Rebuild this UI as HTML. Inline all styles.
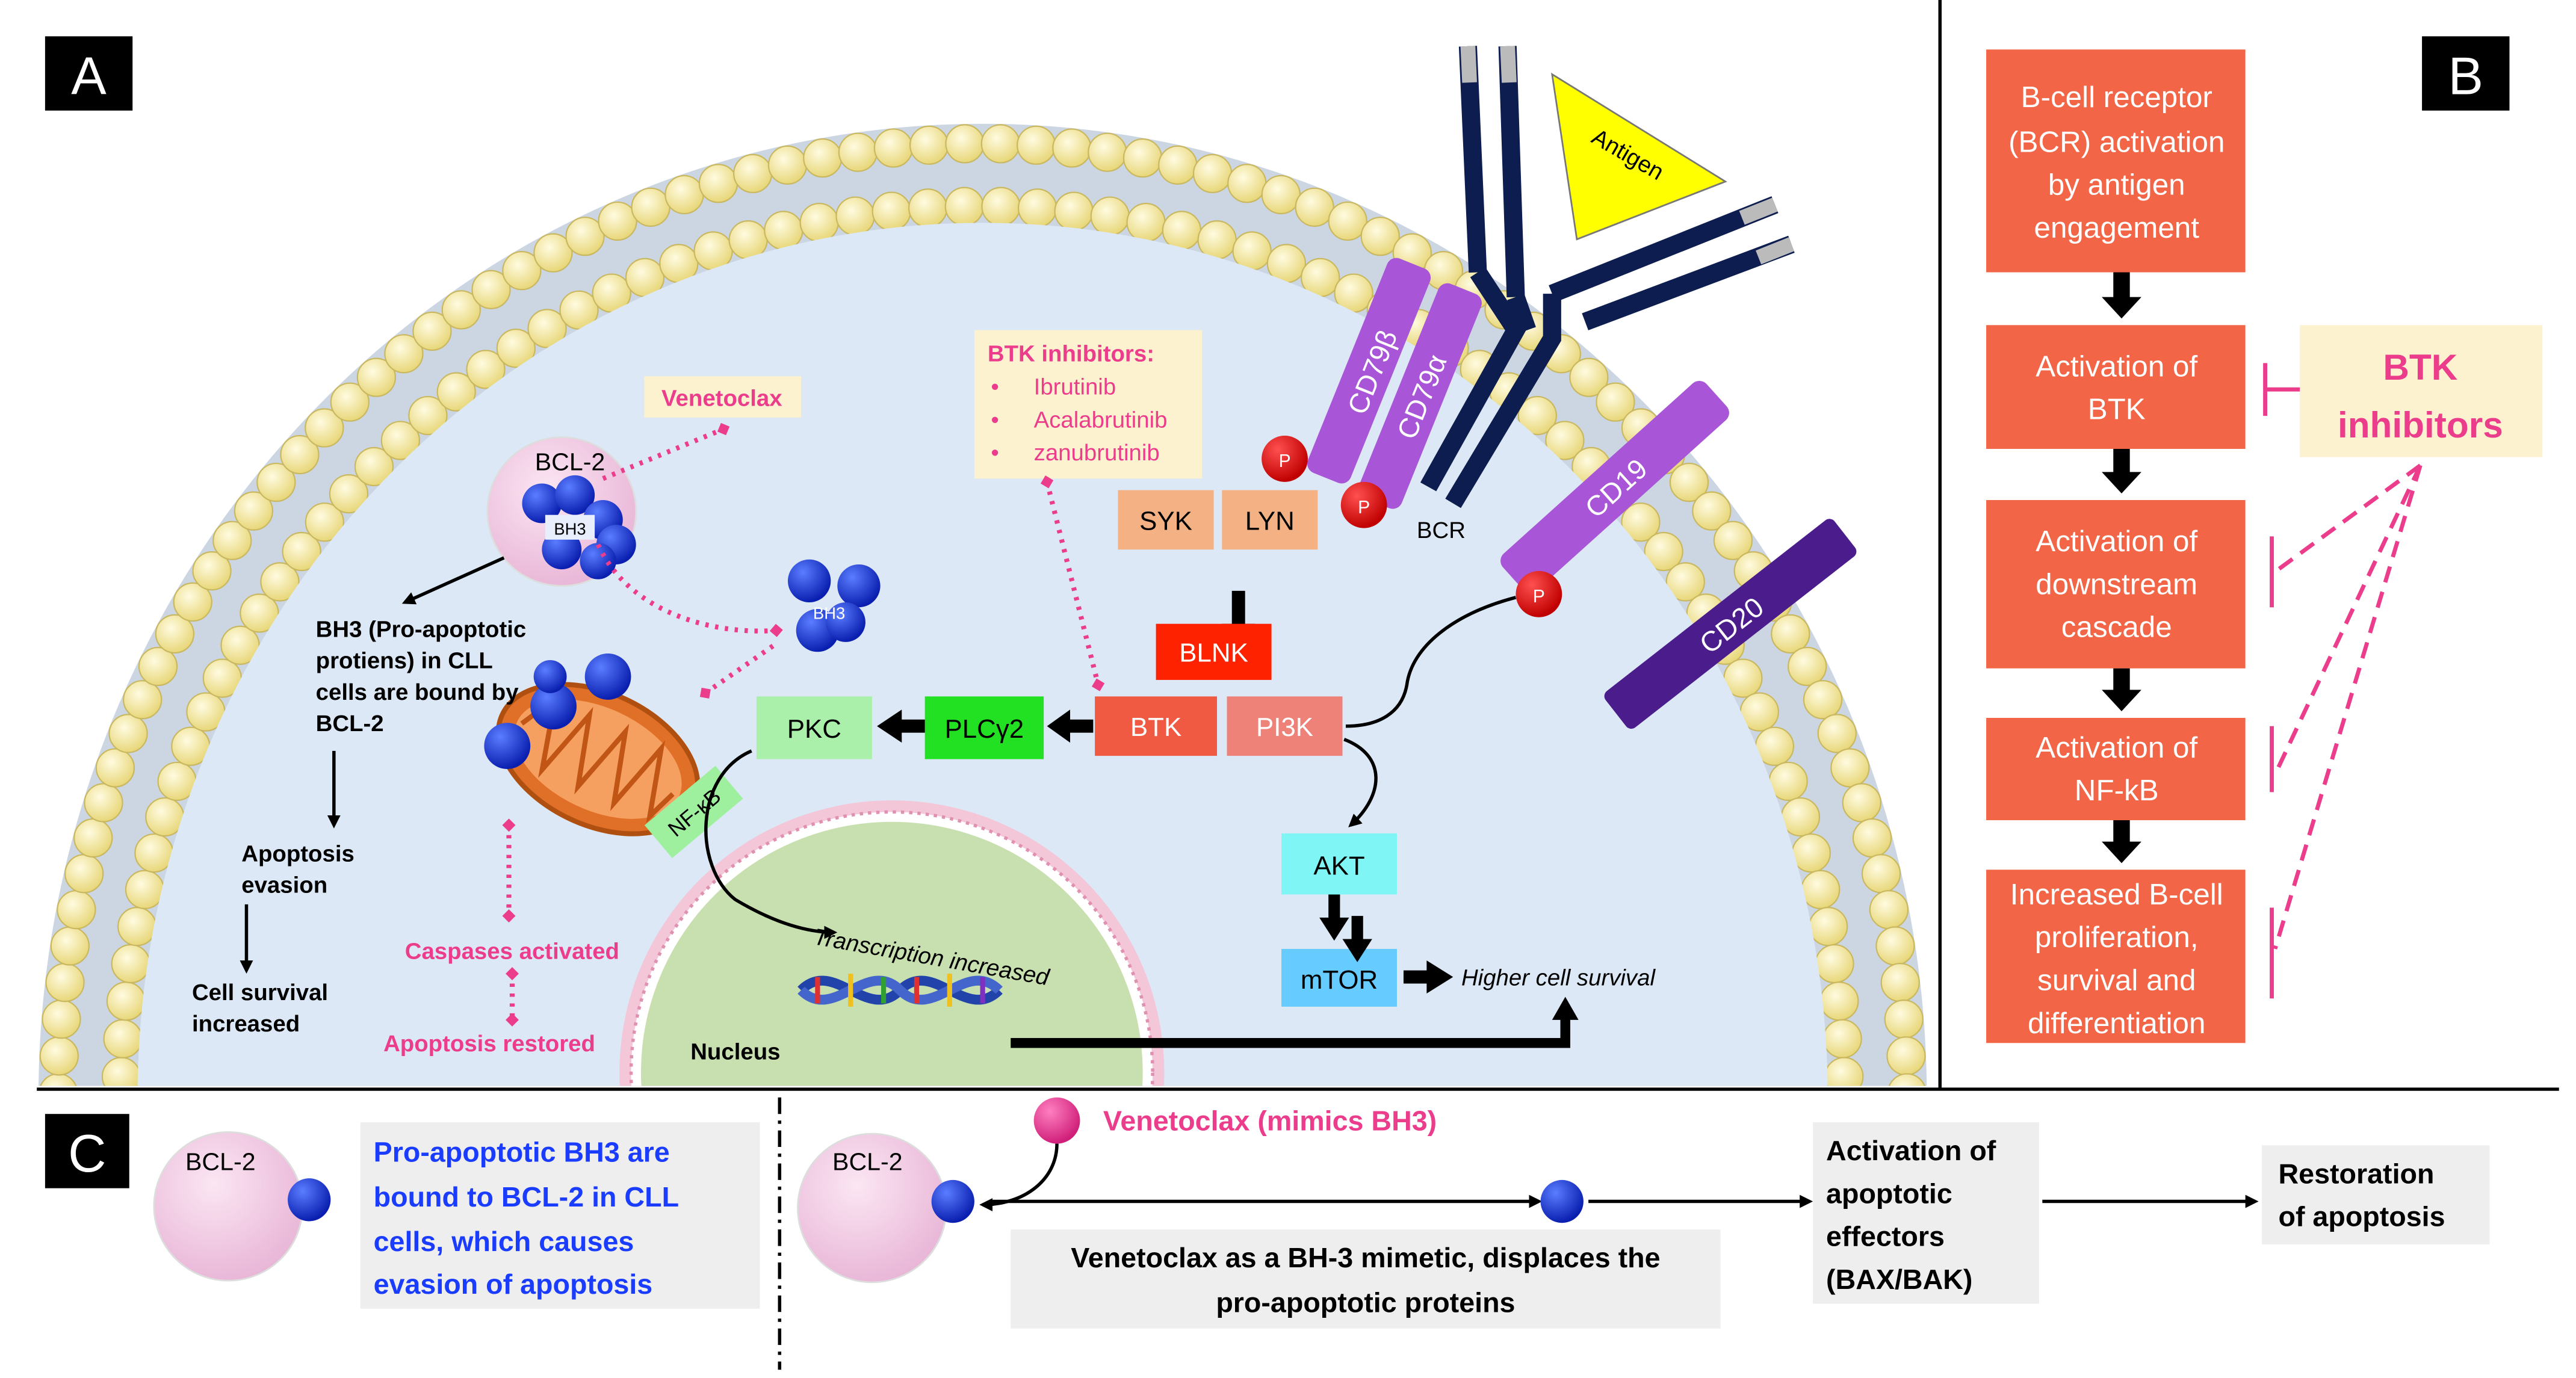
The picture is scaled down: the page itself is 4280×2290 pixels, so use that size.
<!DOCTYPE html>
<html><head><meta charset="utf-8"><style>
html,body{margin:0;padding:0;background:#fff;width:4280px;height:2290px;overflow:hidden;position:relative}
svg{display:block;position:absolute;left:0;top:0}
text{font-family:"Liberation Sans",sans-serif}
</style></head><body>
<svg id="s" width="4280" height="2290" viewBox="0 0 1560 835" xmlns="http://www.w3.org/2000/svg">
<defs>
<clipPath id="cA"><rect x="0" y="0" width="1175" height="658"/></clipPath>
<radialGradient id="head" cx="40%" cy="35%" r="65%"><stop offset="0" stop-color="#fffbe0"/><stop offset="1" stop-color="#e8d77a"/></radialGradient>
<radialGradient id="pink" cx="40%" cy="35%" r="70%"><stop offset="0" stop-color="#fbe6f3"/><stop offset="1" stop-color="#e8b4d6"/></radialGradient>
<radialGradient id="blue" cx="35%" cy="30%" r="70%"><stop offset="0" stop-color="#5a7dff"/><stop offset="1" stop-color="#0a1fb0"/></radialGradient>
<radialGradient id="red" cx="35%" cy="30%" r="70%"><stop offset="0" stop-color="#ff5050"/><stop offset="1" stop-color="#c00000"/></radialGradient>
<radialGradient id="mag" cx="35%" cy="30%" r="70%"><stop offset="0" stop-color="#ff7fc0"/><stop offset="1" stop-color="#d0207a"/></radialGradient>
<marker id="ab" markerWidth="8" markerHeight="8" refX="6" refY="4" orient="auto" markerUnits="userSpaceOnUse"><path d="M0,0 L8,4 L0,8z" fill="#000"/></marker>
<marker id="pd" markerWidth="8" markerHeight="8" refX="4" refY="4" orient="auto" markerUnits="userSpaceOnUse"><path d="M4,0 L8,4 L4,8 L0,4z" fill="#ec3c8c"/></marker>
</defs>
<rect width="1560" height="835" fill="#fff"/>
<g clip-path="url(#cA)">
 <ellipse cx="595" cy="665" rx="572" ry="590" fill="#ccd6e2"/>
 <g id="outer"></g>
 <ellipse cx="595" cy="665" rx="528" ry="546" fill="#ccd6e2"/>
 <g id="inner"></g>
 <ellipse cx="595" cy="665" rx="512" ry="530" fill="#dce8f5"/>
 <circle cx="540" cy="650" r="165" fill="#f3c6d8"/>
 <circle cx="540" cy="650" r="158" fill="#fff" stroke="#e090b0" stroke-width="2" stroke-dasharray="2 3"/>
 <circle cx="540" cy="650" r="152" fill="#c8e0b0"/>
</g>
<line x1="1175" y1="0" x2="1175" y2="660" stroke="#000" stroke-width="2"/>
<line x1="22" y1="660" x2="1550" y2="660" stroke="#000" stroke-width="2"/>
<line x1="472" y1="665" x2="472" y2="830" stroke="#000" stroke-width="2" stroke-dasharray="10 4 2 4"/>
<rect x="27" y="22" width="53" height="45" fill="#000"/><text x="53.5" y="57" font-size="32" fill="#fff" text-anchor="middle">A</text>
<rect x="1467" y="22" width="53" height="45" fill="#000"/><text x="1493.5" y="57" font-size="32" fill="#fff" text-anchor="middle">B</text>
<rect x="27" y="675" width="51" height="45" fill="#000"/><text x="52.5" y="710" font-size="32" fill="#fff" text-anchor="middle">C</text>

<g stroke-linecap="butt">
 <polygon points="940,45 1045,110 955,145" fill="#ffff00" stroke="#777" stroke-width="1"/>
 <text x="960" y="93" font-size="14" transform="rotate(30 975 95)">Antigen</text>
 <line x1="889" y1="28" x2="895" y2="165" stroke="#0d1d4f" stroke-width="11"/>
 <line x1="889" y1="28" x2="890" y2="50" stroke="#bbb" stroke-width="9"/>
 <line x1="913" y1="28" x2="918" y2="180" stroke="#0d1d4f" stroke-width="11"/>
 <line x1="913" y1="28" x2="914" y2="50" stroke="#bbb" stroke-width="9"/>
 <line x1="1075" y1="124" x2="940" y2="178" stroke="#0d1d4f" stroke-width="11"/>
 <line x1="1075" y1="124" x2="1055" y2="132" stroke="#bbb" stroke-width="9"/>
 <line x1="1085" y1="148" x2="960" y2="195" stroke="#0d1d4f" stroke-width="11"/>
 <line x1="1085" y1="148" x2="1065" y2="156" stroke="#bbb" stroke-width="9"/>
 <polyline points="895,165 918,200 865,295" fill="none" stroke="#0d1d4f" stroke-width="11"/>
 <polyline points="940,178 940,205 880,305" fill="none" stroke="#0d1d4f" stroke-width="11"/>
 <polyline points="918,180 925,200" fill="none" stroke="#0d1d4f" stroke-width="11"/>
</g>
<g transform="rotate(-68 830 225)"><rect x="760" y="210" width="140" height="28" rx="6" fill="#a855d8"/><text x="830" y="232" font-size="17" fill="#fff" text-anchor="middle">CD79β</text></g>
<g transform="rotate(-68 860 240)"><rect x="790" y="226" width="140" height="28" rx="6" fill="#a855d8"/><text x="860" y="247" font-size="17" fill="#fff" text-anchor="middle">CD79α</text></g>
<g transform="rotate(-42 978 295)"><rect x="895" y="280" width="166" height="30" rx="6" fill="#a855d8"/><text x="978" y="302" font-size="17" fill="#fff" text-anchor="middle">CD19</text></g>
<g transform="rotate(-38 1048 378)"><rect x="960" y="364" width="176" height="28" rx="4" fill="#4b1d8c"/><text x="1048" y="385" font-size="17" fill="#fff" text-anchor="middle">CD20</text></g>
<text x="858" y="326" font-size="14">BCR</text>
<circle cx="778" cy="278" r="14" fill="url(#red)"/><text x="778" y="283" font-size="11" fill="#fff" text-anchor="middle">P</text>
<circle cx="826" cy="306" r="14" fill="url(#red)"/><text x="826" y="311" font-size="11" fill="#fff" text-anchor="middle">P</text>

<rect x="677" y="297" width="58" height="36" fill="#f4b183"/><text x="706" y="321" font-size="16" text-anchor="middle">SYK</text>
<rect x="740" y="297" width="58" height="36" fill="#f4b183"/><text x="769" y="321" font-size="16" text-anchor="middle">LYN</text>
<line x1="750" y1="358" x2="750" y2="385" stroke="#000" stroke-width="8"/><path d="M740,378 L760,378 L750,392z" fill="#000"/>
<rect x="700" y="378" width="70" height="34" fill="#ff2200"/><text x="735" y="401" font-size="16" fill="#fff" text-anchor="middle">BLNK</text>
<rect x="663" y="422" width="74" height="36" fill="#f05a42"/><text x="700" y="446" font-size="16" fill="#fff" text-anchor="middle">BTK</text>
<rect x="743" y="422" width="70" height="36" fill="#ef8278"/><text x="778" y="446" font-size="16" fill="#fff" text-anchor="middle">PI3K</text>
<rect x="560" y="422" width="72" height="38" fill="#22e022"/><text x="596" y="447" font-size="16" text-anchor="middle">PLCγ2</text>
<rect x="458" y="422" width="70" height="38" fill="#aaf0aa"/><text x="493" y="447" font-size="16" text-anchor="middle">PKC</text>
<line x1="662" y1="440" x2="645" y2="440" stroke="#000" stroke-width="8"/><path d="M648,430 L648,450 L634,440z" fill="#000"/>
<line x1="560" y1="440" x2="545" y2="440" stroke="#000" stroke-width="8"/><path d="M546,430 L546,450 L531,440z" fill="#000"/>
<path d="M918,362 C880,372 855,392 852,415 C849,432 835,440 815,440" fill="none" stroke="#000" stroke-width="2"/>
<circle cx="932" cy="360" r="14" fill="url(#red)"/><text x="932" y="365" font-size="11" fill="#fff" text-anchor="middle">P</text>
<path d="M814,448 C840,458 838,482 818,500" fill="none" stroke="#000" stroke-width="2" marker-end="url(#ab)"/>
<rect x="776" y="505" width="70" height="37" fill="#7ff5f5"/><text x="811" y="530" font-size="16" text-anchor="middle">AKT</text>
<rect x="776" y="575" width="70" height="35" fill="#66ccff"/><text x="811" y="599" font-size="16" text-anchor="middle">mTOR</text>
<line x1="808" y1="542" x2="808" y2="560" stroke="#000" stroke-width="7"/><path d="M799,556 L817,556 L808,570z" fill="#000"/>
<line x1="822" y1="555" x2="822" y2="573" stroke="#000" stroke-width="7"/><path d="M813,569 L831,569 L822,583z" fill="#000"/>
<line x1="850" y1="592" x2="866" y2="592" stroke="#000" stroke-width="8"/><path d="M864,582 L864,602 L880,592z" fill="#000"/>
<text x="885" y="597" font-size="14" font-style="italic">Higher cell survival</text>
<text x="492" y="572" font-size="14" font-style="italic" transform="rotate(10 492 572)">Transcription increased</text>
<text x="418" y="642" font-size="14" font-weight="bold">Nucleus</text>
<g stroke-width="3">
<path d="M485,600 C505,580 525,620 545,600 C565,580 585,620 605,600" fill="none" stroke="#2244aa" stroke-width="6"/>
<path d="M485,600 C505,620 525,580 545,600 C565,620 585,580 605,600" fill="none" stroke="#4466cc" stroke-width="6"/>
<line x1="495" y1="592" x2="495" y2="608" stroke="#e03030"/><line x1="515" y1="590" x2="515" y2="610" stroke="#f0c020"/><line x1="535" y1="592" x2="535" y2="608" stroke="#30a030"/><line x1="555" y1="592" x2="555" y2="608" stroke="#e03030"/><line x1="575" y1="590" x2="575" y2="610" stroke="#f0c020"/><line x1="595" y1="592" x2="595" y2="608" stroke="#8030c0"/>
</g>
<polyline points="612,632 948,632 948,615" fill="none" stroke="#000" stroke-width="6"/><path d="M940,618 L956,618 L948,604z" fill="#000"/>

<rect x="590" y="200" width="138" height="90" fill="#fdf2cf"/>
<text x="598" y="219" font-size="14" font-weight="bold" fill="#ec3c8c">BTK inhibitors:</text>
<g font-size="14" fill="#ec3c8c"><text x="600" y="239">•</text><text x="626" y="239">Ibrutinib</text><text x="600" y="259">•</text><text x="626" y="259">Acalabrutinib</text><text x="600" y="279">•</text><text x="626" y="279">zanubrutinib</text></g>
<path d="M634,292 L665,415" stroke="#ec3c8c" stroke-width="3" stroke-dasharray="2 4" fill="none" marker-start="url(#pd)" marker-end="url(#pd)"/>

<rect x="390" y="228" width="95" height="25" fill="#fdf2cf"/><text x="437" y="246" font-size="14" font-weight="bold" fill="#ec3c8c" text-anchor="middle">Venetoclax</text>
<circle cx="340" cy="310" r="45" fill="url(#pink)" stroke="#ddd"/>
<text x="345" y="285" font-size="15" text-anchor="middle">BCL-2</text>
<g fill="url(#blue)"><circle cx="328" cy="305" r="12"/><circle cx="348" cy="300" r="12"/><circle cx="365" cy="315" r="12"/><circle cx="373" cy="330" r="12"/><circle cx="340" cy="333" r="12"/><circle cx="362" cy="340" r="11"/></g>
<rect x="330" y="312" width="30" height="15" fill="#e8eefc"/><text x="345" y="324" font-size="10" text-anchor="middle">BH3</text>
<path d="M365,290 L438,260" stroke="#ec3c8c" stroke-width="3" stroke-dasharray="2 4" fill="none" marker-end="url(#pd)"/>
<path d="M362,330 C380,370 430,385 470,382" stroke="#ec3c8c" stroke-width="3" stroke-dasharray="2 4" fill="none" marker-end="url(#pd)"/>
<g fill="url(#blue)"><circle cx="490" cy="352" r="13"/><circle cx="520" cy="355" r="13"/><circle cx="495" cy="382" r="13"/><circle cx="512" cy="377" r="12"/></g>
<text x="502" y="375" font-size="10" fill="#fff" text-anchor="middle">BH3</text>
<line x1="305" y1="338" x2="245" y2="365" stroke="#000" stroke-width="2" marker-end="url(#ab)"/>
<line x1="202" y1="455" x2="202" y2="500" stroke="#000" stroke-width="2" marker-end="url(#ab)"/>
<line x1="149" y1="548" x2="149" y2="588" stroke="#000" stroke-width="2" marker-end="url(#ab)"/>
<g transform="rotate(25 362 460)">
<ellipse cx="362" cy="460" rx="64" ry="40" fill="#e07028" stroke="#b05010" stroke-width="3"/>
<ellipse cx="362" cy="460" rx="54" ry="31" fill="#f5a060"/>
<path d="M311,460 L323,438 L334,480 L346,438 L358,480 L370,438 L382,480 L394,438 L405,478 L412,460" fill="none" stroke="#c05515" stroke-width="3"/>
</g>
<g fill="url(#blue)"><circle cx="307" cy="452" r="14"/><circle cx="335" cy="428" r="14"/><circle cx="368" cy="410" r="14"/><circle cx="333" cy="410" r="10"/></g>
<g font-size="14" font-weight="bold"><text x="191" y="386">BH3 (Pro-apoptotic</text><text x="191" y="405">protiens) in CLL</text><text x="191" y="424">cells are bound by</text><text x="191" y="443">BCL-2</text>
<text x="146" y="522">Apoptosis</text><text x="146" y="541">evasion</text><text x="116" y="606">Cell survival</text><text x="116" y="625">increased</text></g>
<g transform="rotate(-40 420 492)"><rect x="392" y="479" width="56" height="26" fill="#9ef09e"/><text x="420" y="497" font-size="13" text-anchor="middle">NF-κB</text></g>
<path d="M455,455 C420,470 420,525 445,545 C470,560 490,565 505,565" fill="none" stroke="#000" stroke-width="2" marker-end="url(#ab)"/>
<path d="M427,420 L470,390" stroke="#ec3c8c" stroke-width="3" stroke-dasharray="2 4" fill="none" marker-start="url(#pd)"/>
<path d="M308,500 L308,555" stroke="#ec3c8c" stroke-width="3" stroke-dasharray="2 4" fill="none" marker-start="url(#pd)" marker-end="url(#pd)"/>
<text x="245" y="581" font-size="14" font-weight="bold" fill="#ec3c8c">Caspases activated</text>
<path d="M310,590 L310,618" stroke="#ec3c8c" stroke-width="3" stroke-dasharray="2 4" fill="none" marker-start="url(#pd)" marker-end="url(#pd)"/>
<text x="232" y="637" font-size="14" font-weight="bold" fill="#ec3c8c">Apoptosis restored</text>

<g fill="#f26546">
<rect x="1203" y="30" width="157" height="135"/>
<rect x="1203" y="197" width="157" height="75"/>
<rect x="1203" y="303" width="157" height="102"/>
<rect x="1203" y="435" width="157" height="62"/>
<rect x="1203" y="527" width="157" height="105"/>
</g>
<g font-size="18" fill="#fff" text-anchor="middle">
<text x="1282" y="65">B-cell receptor</text><text x="1282" y="92">(BCR) activation</text><text x="1282" y="118">by antigen</text><text x="1282" y="144">engagement</text>
<text x="1282" y="228">Activation of</text><text x="1282" y="254">BTK</text>
<text x="1282" y="334">Activation of</text><text x="1282" y="360">downstream</text><text x="1282" y="386">cascade</text>
<text x="1282" y="459">Activation of</text><text x="1282" y="485">NF-kB</text>
<text x="1282" y="548">Increased B-cell</text><text x="1282" y="574">proliferation,</text><text x="1282" y="600">survival and</text><text x="1282" y="626">differentiation</text>
</g>
<g fill="#000">
<rect x="1280" y="165" width="10" height="18"/><path d="M1273,180 L1297,180 L1285,193z"/>
<rect x="1280" y="272" width="10" height="17"/><path d="M1273,286 L1297,286 L1285,299z"/>
<rect x="1280" y="405" width="10" height="16"/><path d="M1273,418 L1297,418 L1285,431z"/>
<rect x="1280" y="497" width="10" height="16"/><path d="M1273,510 L1297,510 L1285,523z"/>
</g>
<rect x="1393" y="197" width="147" height="80" fill="#fdf2cf"/>
<text x="1466" y="230" font-size="22" font-weight="bold" fill="#ec3c8c" text-anchor="middle">BTK</text>
<text x="1466" y="265" font-size="22" font-weight="bold" fill="#ec3c8c" text-anchor="middle">inhibitors</text>
<g stroke="#ec3c8c" stroke-width="2.5" fill="none">
<line x1="1372" y1="236" x2="1393" y2="236"/><line x1="1372" y1="220" x2="1372" y2="252"/>
<g stroke-dasharray="10 6"><line x1="1466" y1="282" x2="1380" y2="345"/><line x1="1466" y1="282" x2="1380" y2="465"/><line x1="1466" y1="282" x2="1378" y2="575"/></g>
<line x1="1376" y1="325" x2="1376" y2="368"/><line x1="1376" y1="440" x2="1376" y2="480"/><line x1="1376" y1="550" x2="1376" y2="605"/>
</g>

<circle cx="138" cy="731" r="45" fill="url(#pink)" stroke="#ddd"/>
<text x="112" y="709" font-size="15">BCL-2</text>
<circle cx="187" cy="727" r="13" fill="url(#blue)"/>
<rect x="218" y="680" width="242" height="113" fill="#eeeeee"/>
<g font-size="17" font-weight="bold" fill="#1a3cff"><text x="226" y="704">Pro-apoptotic BH3 are</text><text x="226" y="731">bound to BCL-2 in CLL</text><text x="226" y="758">cells, which causes</text><text x="226" y="784">evasion of apoptosis</text></g>
<circle cx="528" cy="732" r="45" fill="url(#pink)" stroke="#ddd"/>
<text x="504" y="709" font-size="15">BCL-2</text>
<circle cx="577" cy="728" r="13" fill="url(#blue)"/>
<circle cx="640" cy="679" r="14" fill="url(#mag)"/>
<text x="668" y="685" font-size="17" font-weight="bold" fill="#ec3c8c">Venetoclax (mimics BH3)</text>
<path d="M640,693 C640,715 620,730 595,730" fill="none" stroke="#000" stroke-width="2" marker-end="url(#ab)"/>
<line x1="600" y1="728" x2="932" y2="728" stroke="#000" stroke-width="2" marker-end="url(#ab)"/>
<circle cx="946" cy="728" r="13" fill="url(#blue)"/>
<line x1="962" y1="728" x2="1096" y2="728" stroke="#000" stroke-width="2" marker-end="url(#ab)"/>
<rect x="612" y="745" width="430" height="60" fill="#eeeeee"/>
<text x="827" y="768" font-size="17" font-weight="bold" text-anchor="middle">Venetoclax as a BH-3 mimetic, displaces the</text>
<text x="827" y="795" font-size="17" font-weight="bold" text-anchor="middle">pro-apoptotic proteins</text>
<rect x="1098" y="680" width="137" height="110" fill="#eeeeee"/>
<g font-size="17" font-weight="bold"><text x="1106" y="703">Activation of</text><text x="1106" y="729">apoptotic</text><text x="1106" y="755">effectors</text><text x="1106" y="781">(BAX/BAK)</text></g>
<line x1="1237" y1="728" x2="1366" y2="728" stroke="#000" stroke-width="2" marker-end="url(#ab)"/>
<rect x="1370" y="694" width="138" height="60" fill="#eeeeee"/>
<g font-size="17" font-weight="bold"><text x="1380" y="717">Restoration</text><text x="1380" y="743">of apoptosis</text></g>
</svg>
<script>
(function(){
 var ns="http://www.w3.org/2000/svg";
 function ring(id,rx,ry,n){
  var g=document.getElementById(id);
  for(var i=0;i<n;i++){
   var a=Math.PI - (i/(n-1))*Math.PI*1.12 + 0.06*Math.PI;
   var x=595+rx*Math.cos(a), y=665-ry*Math.sin(a);
   var c=document.createElementNS(ns,"circle");
   c.setAttribute("cx",x);c.setAttribute("cy",y);c.setAttribute("r",11.5);
   c.setAttribute("fill","url(#head)");c.setAttribute("stroke","#c9b860");c.setAttribute("stroke-width","0.8");
   g.appendChild(c);
  }
 }
 ring("outer",560,578,92);
 ring("inner",522,540,84);
})();
</script>
</body></html>
